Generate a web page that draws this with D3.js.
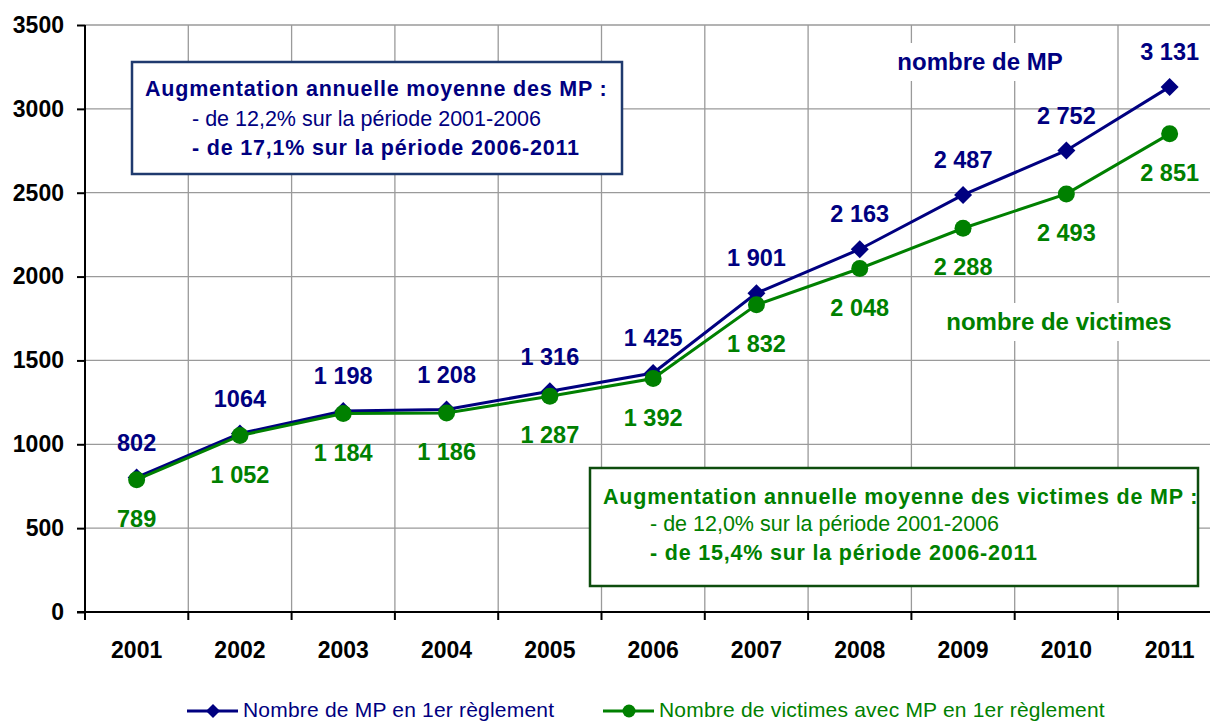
<!DOCTYPE html>
<html>
<head>
<meta charset="utf-8">
<script src="https://cdn.jsdelivr.net/npm/d3@7/dist/d3.min.js"></script>
<style>
    html, body { margin: 0; padding: 0; background: #fff; }
    svg { display: block; font-family: "Liberation Sans", Arial, sans-serif; }
    .grid line { stroke: #9a9a9a; stroke-width: 1.3px; }
</style>
</head>
<body>
<div id="chart"></div>
<script>
var years = ['2001', '2002', '2003', '2004', '2005', '2006', '2007', '2008', '2009', '2010', '2011'];
var mpValues = [802, 1064, 1198, 1208, 1316, 1425, 1901, 2163, 2487, 2752, 3131];
var victimValues = [789, 1052, 1184, 1186, 1287, 1392, 1832, 2048, 2288, 2493, 2851];
var mpLabels = ['802', '1064', '1 198', '1 208', '1 316', '1 425', '1 901', '2 163', '2 487', '2 752', '3 131'];
var victimLabels = ['789', '1 052', '1 184', '1 186', '1 287', '1 392', '1 832', '2 048', '2 288', '2 493', '2 851'];
var yTicks = [0, 500, 1000, 1500, 2000, 2500, 3000, 3500];
var seriesNames = ['Nombre de MP en 1er règlement', 'Nombre de victimes avec MP en 1er règlement'];
var mpBoxLines = ['Augmentation annuelle moyenne des MP :', '- de 12,2% sur la période 2001-2006', '- de 17,1% sur la période 2006-2011'];
var victimBoxLines = ['Augmentation annuelle moyenne des victimes de MP :', '- de 12,0% sur la période 2001-2006', '- de 15,4% sur la période 2006-2011'];

var NAVY = '#000080', GREEN = '#008000';
var W = 1210, H = 723;
var padL = 85, padT = 25, baseY = 612, band = 103.3;

var svg = d3.select('#chart').append('svg')
    .attr('width', W)
    .attr('height', H);

var x = d3.scaleBand().domain(years).range([padL, padL + band * years.length]);
var y = d3.scaleLinear().domain([0, 3500]).range([baseY, padT]);
function cx(d) { return x(d) + x.bandwidth() / 2; }

// grid
var grid = svg.append('g').classed('grid', true);
grid.selectAll('line.h')
    .data(yTicks.filter(function(t) { return t > 0; }))
  .enter().append('line')
    .attr('x1', padL).attr('x2', x.range()[1])
    .attr('y1', function(d) { return y(d); })
    .attr('y2', function(d) { return y(d); });
grid.selectAll('line.v')
    .data(years)
  .enter().append('line')
    .attr('x1', function(d) { return x(d) + x.bandwidth(); })
    .attr('x2', function(d) { return x(d) + x.bandwidth(); })
    .attr('y1', padT).attr('y2', baseY);

// series annotations with white backing (they cut the grid)
function tag(txt, xc, yc, color, w) {
    svg.append('rect')
        .attr('x', xc - w / 2).attr('y', yc - 19)
        .attr('width', w).attr('height', 38)
        .attr('fill', '#fff');
    svg.append('text')
        .attr('x', xc).attr('y', yc).attr('dy', '0.35em')
        .attr('text-anchor', 'middle')
        .attr('font-size', 24).attr('font-weight', 'bold')
        .attr('fill', color)
        .text(txt);
}
tag('nombre de MP', 980, 62, NAVY, 200);
tag('nombre de victimes', 1059, 322, GREEN, 270);

// axes
var yAxis = svg.append('g')
    .attr('transform', 'translate(' + padL + ',0)')
    .call(d3.axisLeft(y).tickValues(yTicks).tickSize(8).tickPadding(13).tickFormat(d3.format('d')));
yAxis.select('.domain').remove();
yAxis.selectAll('.tick line').attr('stroke', '#000').attr('stroke-width', 2);
yAxis.selectAll('.tick text')
    .attr('font-size', 23).attr('font-weight', 'bold').attr('fill', '#000')
    .attr('font-family', '"Liberation Sans", Arial, sans-serif');

svg.append('line')
    .attr('x1', padL).attr('x2', padL)
    .attr('y1', padT).attr('y2', baseY)
    .attr('stroke', '#000').attr('stroke-width', 2);
svg.append('line')
    .attr('x1', padL - 8).attr('x2', x.range()[1])
    .attr('y1', baseY).attr('y2', baseY)
    .attr('stroke', '#000').attr('stroke-width', 2);

svg.selectAll('line.xtick')
    .data([padL].concat(years.map(function(d) { return x(d) + x.bandwidth(); })))
  .enter().append('line')
    .attr('x1', function(d) { return d; }).attr('x2', function(d) { return d; })
    .attr('y1', baseY).attr('y2', baseY + 8)
    .attr('stroke', '#000').attr('stroke-width', 2);

var xAxis = svg.append('g')
    .attr('transform', 'translate(0,' + baseY + ')')
    .call(d3.axisBottom(x).tickSize(0).tickPadding(30));
xAxis.select('.domain').remove();
xAxis.selectAll('.tick text')
    .attr('font-size', 23).attr('font-weight', 'bold').attr('fill', '#000')
    .attr('font-family', '"Liberation Sans", Arial, sans-serif');

// annotation boxes
function infoBox(lines, bx, by, bw, bh, color, border, lx, ys) {
    svg.append('rect')
        .attr('x', bx).attr('y', by).attr('width', bw).attr('height', bh)
        .attr('fill', '#fff').attr('stroke', border).attr('stroke-width', 2.5);
    svg.selectAll(null)
        .data(lines)
      .enter().append('text')
        .attr('x', function(d, i) { return lx[i]; })
        .attr('y', function(d, i) { return ys[i]; })
        .attr('dy', '0.35em')
        .attr('font-size', 21.5)
        .attr('font-weight', function(d, i) { return i === 1 ? 'normal' : 'bold'; })
        .attr('letter-spacing', function(d, i) { return i === 1 ? 0 : 0.8; })
        .attr('fill', color)
        .text(function(d) { return d; });
}
infoBox(mpBoxLines, 132, 62, 490, 112, NAVY, '#1f3a6e', [145, 192, 192], [88, 118, 147]);
infoBox(victimBoxLines, 590, 468, 608, 118, GREEN, '#0d4d0d', [603, 650, 650], [496, 523, 552]);

// series lines
var line = d3.line()
    .x(function(d) { return cx(d.year); })
    .y(function(d) { return y(d.value); });

function pairs(vals) {
    return years.map(function(yr, i) { return { year: yr, value: vals[i] }; });
}
var mpData = pairs(mpValues);
var victimData = pairs(victimValues);

svg.append('path').datum(mpData)
    .attr('d', line).attr('fill', 'none')
    .attr('stroke', NAVY).attr('stroke-width', 3);
svg.selectAll('path.diamond')
    .data(mpData)
  .enter().append('path')
    .attr('d', 'M0,-9L9,0L0,9L-9,0Z')
    .attr('fill', NAVY)
    .attr('transform', function(d) { return 'translate(' + cx(d.year) + ',' + y(d.value) + ')'; });

svg.append('path').datum(victimData)
    .attr('d', line).attr('fill', 'none')
    .attr('stroke', GREEN).attr('stroke-width', 3);
svg.selectAll('circle.dot')
    .data(victimData)
  .enter().append('circle')
    .attr('cx', function(d) { return cx(d.year); })
    .attr('cy', function(d) { return y(d.value); })
    .attr('r', 8.5)
    .attr('fill', GREEN);

// value labels
svg.selectAll('text.mp')
    .data(mpData)
  .enter().append('text')
    .attr('x', function(d) { return cx(d.year); })
    .attr('y', function(d) { return y(d.value) - 35; })
    .attr('dy', '0.35em')
    .attr('text-anchor', 'middle')
    .attr('font-size', 23.5).attr('font-weight', 'bold')
    .attr('fill', NAVY)
    .text(function(d, i) { return mpLabels[i]; });
svg.selectAll('text.vic')
    .data(victimData)
  .enter().append('text')
    .attr('x', function(d) { return cx(d.year); })
    .attr('y', function(d) { return y(d.value) + 39; })
    .attr('dy', '0.35em')
    .attr('text-anchor', 'middle')
    .attr('font-size', 23.5).attr('font-weight', 'bold')
    .attr('fill', GREEN)
    .text(function(d, i) { return victimLabels[i]; });

// legend
var legend = svg.append('g');
var legendItems = [
    { name: seriesNames[0], color: NAVY, x: 187, marker: 'diamond' },
    { name: seriesNames[1], color: GREEN, x: 603, marker: 'circle' }
];
legendItems.forEach(function(it) {
    var g = legend.append('g').attr('transform', 'translate(' + it.x + ',711)');
    g.append('line').attr('x1', 0).attr('x2', 51)
        .attr('stroke', it.color).attr('stroke-width', 3);
    if (it.marker === 'diamond') {
        g.append('path').attr('d', 'M26,-7L33,0L26,7L19,0Z').attr('fill', it.color);
    } else {
        g.append('circle').attr('cx', 26).attr('r', 6.5).attr('fill', it.color);
    }
    g.append('text').attr('x', 56).attr('y', 6)
        .attr('font-size', 21).attr('letter-spacing', 0.2).attr('fill', it.color)
        .text(it.name);
});
</script>
</body>
</html>
